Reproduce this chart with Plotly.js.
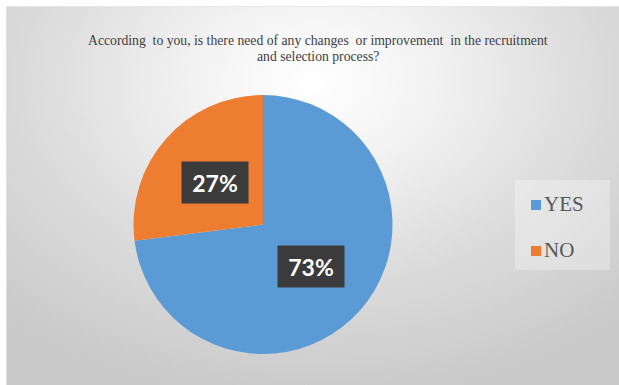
<!DOCTYPE html>
<html>
<head>
<meta charset="utf-8">
<script src="https://cdn.plot.ly/plotly-3.0.1.min.js"></script>
<style>
  html, body { margin: 0; padding: 0; background: #ffffff; width: 619px; height: 385px; overflow: hidden; }
  #panel {
    position: absolute; left: 6px; top: 6px; width: 612px; height: 378px;
    background: radial-gradient(ellipse 75% 85% at 50% 20%, #ffffff 0%, #f3f3f3 25%, #dcdcdc 60%, #c9c9c9 100%);
    border-top: 1px solid #e6e6e6; border-left: 1px solid #e0e0e0;
  }
  #chart { position: absolute; left: 0; top: 0; width: 619px; height: 385px; }
</style>
</head>
<body>
<div id="panel"></div>
<div id="chart"></div>
<script>
const labels = ["YES", "NO"];
const values = [73, 27];
const colors = ["#5B9BD5", "#ED7D31"];
const titleLine1 = "According&nbsp;&nbsp;to you, is there need of any changes&nbsp; or improvement&nbsp; in the recruitment";
const titleLine2 = "and selection process?";

const W = 619, H = 385;
const serif = "Liberation Serif, Times New Roman, serif";
// pie domain (paper fractions)
const dom = { x: [0.2157, 0.6341], y: [0.0805, 0.7532] };
const cx = (dom.x[0] + dom.x[1]) / 2 * W;
const cyFromBottom = (dom.y[0] + dom.y[1]) / 2 * H;
const R = (dom.x[1] - dom.x[0]) / 2 * W;

const total = values.reduce((a, b) => a + b, 0);
const annotations = [];
let cum = 0;
values.forEach((v, i) => {
  const mid = (cum + v / 2) / total * 2 * Math.PI; // clockwise from 12 o'clock
  cum += v;
  const px = cx + Math.sin(mid) * R * 0.49;
  const py = cyFromBottom + Math.cos(mid) * R * 0.49;
  annotations.push({
    xref: "paper", yref: "paper", x: px / W, y: py / H,
    xanchor: "center", yanchor: "middle", showarrow: false,
    text: "<b>" + Math.round(v / total * 100) + "%</b>",
    font: { family: "Lato, Open Sans, sans-serif", size: 23, color: "#ffffff" },
    bgcolor: "#3b3b3b", width: 62, height: 37, borderpad: 2
  });
});

// title as two centred lines
[[titleLine1, 40], [titleLine2, 56]].forEach(([t, y]) => {
  annotations.push({
    xref: "paper", yref: "paper", x: 318 / W, y: 1 - y / H,
    xanchor: "center", yanchor: "middle", showarrow: false,
    text: t,
    font: { family: serif, size: 13.7, color: "#404040" }
  });
});

// manual legend
const shapes = [{
  type: "rect", xref: "paper", yref: "paper",
  x0: 515 / W, x1: 610 / W, y0: 1 - 270 / H, y1: 1 - 180 / H,
  fillcolor: "rgba(255,255,255,0.3)", line: { width: 0 }, layer: "below"
}];
const legendY = [204, 250];
labels.forEach((lab, i) => {
  const yc = legendY[i];
  shapes.push({
    type: "rect", xref: "paper", yref: "paper",
    x0: 531 / W, x1: 541 / W, y0: 1 - (yc + 6) / H, y1: 1 - (yc - 4) / H,
    fillcolor: colors[i], line: { width: 0 }
  });
  annotations.push({
    xref: "paper", yref: "paper", x: 542 / W, y: 1 - yc / H,
    xanchor: "left", yanchor: "middle", showarrow: false,
    text: lab,
    font: { family: serif, size: 21, color: "#595959" }
  });
});

const data = [{
  type: "pie",
  labels: labels,
  values: values,
  sort: false,
  direction: "clockwise",
  rotation: 0,
  marker: { colors: colors, line: { width: 0 } },
  textinfo: "none",
  hoverinfo: "label+percent",
  domain: dom,
  showlegend: false
}];

const layout = {
  width: W, height: H,
  margin: { l: 0, r: 0, t: 0, b: 0 },
  paper_bgcolor: "rgba(0,0,0,0)",
  plot_bgcolor: "rgba(0,0,0,0)",
  showlegend: false,
  annotations: annotations,
  shapes: shapes
};

Plotly.newPlot("chart", data, layout, { displayModeBar: false, staticPlot: true });
</script>
</body>
</html>
